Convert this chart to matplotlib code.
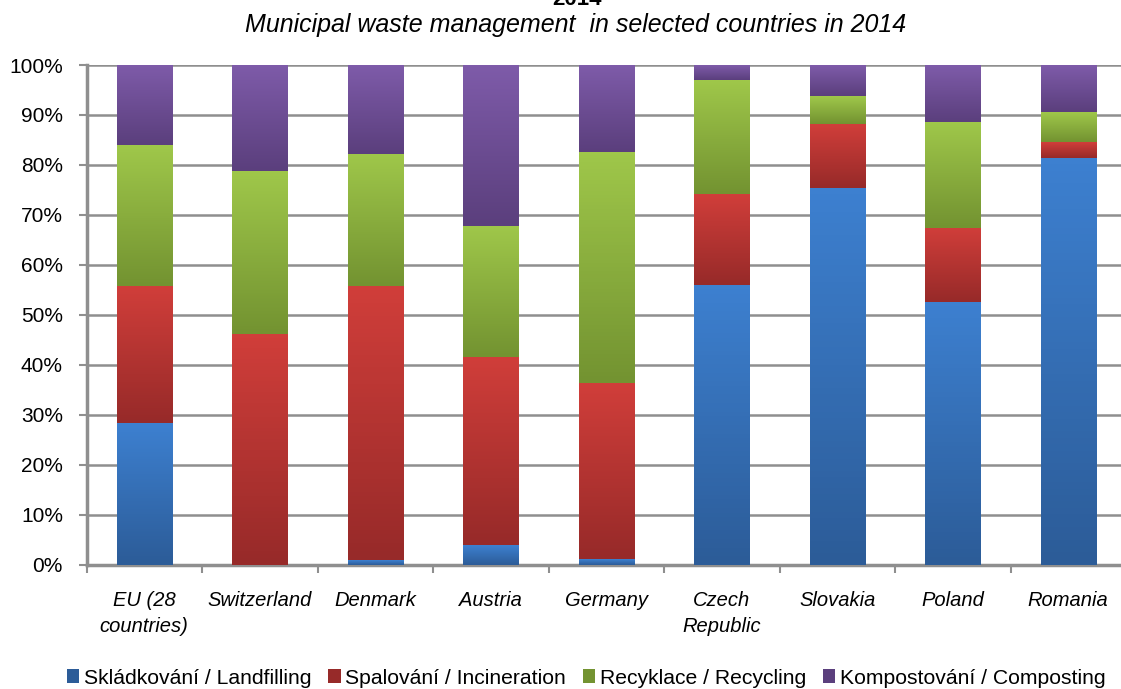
import numpy as np
import matplotlib.pyplot as plt
from matplotlib.colors import LinearSegmentedColormap

plt.rcParams['font.family'] = ['Liberation Sans', 'DejaVu Sans']

# =============================================================================
# Data (share of municipal waste, %)
# =============================================================================
countries = ['EU (28\ncountries)', 'Switzerland', 'Denmark', 'Austria', 'Germany',
             'Czech\nRepublic', 'Slovakia', 'Poland', 'Romania']
landfilling = [28.3, 0.0, 1.0, 4.0, 1.2, 56.0, 75.4, 52.5, 81.4]
incineration = [27.4, 46.1, 54.7, 37.6, 35.1, 18.2, 12.8, 14.9, 3.2]
recycling = [28.2, 32.6, 26.5, 26.2, 46.3, 22.8, 5.6, 21.2, 6.0]
composting = [16.1, 21.3, 17.8, 32.2, 17.4, 3.0, 6.2, 11.4, 9.4]
series_names = ['Skládkování / Landfilling', 'Spalování / Incineration',
                'Recyklace / Recycling', 'Kompostování / Composting']

# gradient colours: (top, bottom)
grads = [('#3d80d0', '#2c5c98'),
         ('#d03e3a', '#972a29'),
         ('#9fc74a', '#739331'),
         ('#7e5ba9', '#5b3f7d')]

# =============================================================================
# Plot
# =============================================================================
fig = plt.figure(figsize=(11.21, 6.89), dpi=100)
ax = fig.add_axes([86.5 / 1121, 1 - 565 / 689, 1039.5 / 1121, 500 / 689])

x = np.arange(len(countries))
width = 0.48
bottom = np.zeros(len(countries))
handles = []
for vals, name, (ctop, cbot) in zip([landfilling, incineration, recycling, composting],
                                    series_names, grads):
    bars = ax.bar(x, vals, width, bottom=bottom, color=cbot, label=name, zorder=2)
    handles.append(bars)
    cmap = LinearSegmentedColormap.from_list(name, [cbot, ctop])
    grad = np.linspace(0, 1, 64).reshape(-1, 1)
    for rect in bars:
        h = rect.get_height()
        if h <= 0:
            continue
        x0 = rect.get_x()
        y0 = rect.get_y()
        ax.imshow(grad, cmap=cmap, aspect='auto', origin='lower',
                  extent=(x0, x0 + rect.get_width(), y0, y0 + h), zorder=3)
    bottom += np.array(vals)

ax.set_xlim(-0.5, len(countries) - 0.5)
ax.set_ylim(0, 100)

# y axis
ax.set_yticks(np.arange(0, 101, 10))
ax.set_yticklabels([f'{v}%' for v in range(0, 101, 10)], fontsize=15)
ax.yaxis.grid(True, color='#8f8f8f', linewidth=1.8, zorder=1)
ax.set_axisbelow(True)
ax.tick_params(axis='y', length=6, width=1.5, color='#8f8f8f', pad=11)

# x axis
ax.set_xticks(x)
ax.set_xticklabels(countries, fontsize=14.5, style='italic', linespacing=1.45)
ax.set_xticks(np.arange(-0.5, len(countries)), minor=True)
ax.tick_params(axis='x', which='major', length=0, pad=19)
ax.tick_params(axis='x', which='minor', length=6, width=1.5, color='#8f8f8f')

for s in ['top', 'right']:
    ax.spines[s].set_visible(False)
for s in ['left', 'bottom']:
    ax.spines[s].set_color('#8f8f8f')
    ax.spines[s].set_linewidth(2.5)

# titles
fig.text(577 / 1121, 1 - 5 / 689, '2014', ha='center', va='baseline',
         fontsize=16, fontweight='bold')
fig.text(576 / 1121, 1 - 25 / 689, 'Municipal waste management  in selected countries in 2014',
         ha='center', va='center', fontsize=18, style='italic')

fig.legend(handles=handles, labels=series_names, loc='center',
           bbox_to_anchor=(586 / 1121, 1 - 678 / 689), ncol=4, frameon=False,
           fontsize=15.2, handlelength=0.6, handleheight=0.6, handletextpad=0.2,
           columnspacing=0.8)

fig.savefig('out.png', dpi=100)
